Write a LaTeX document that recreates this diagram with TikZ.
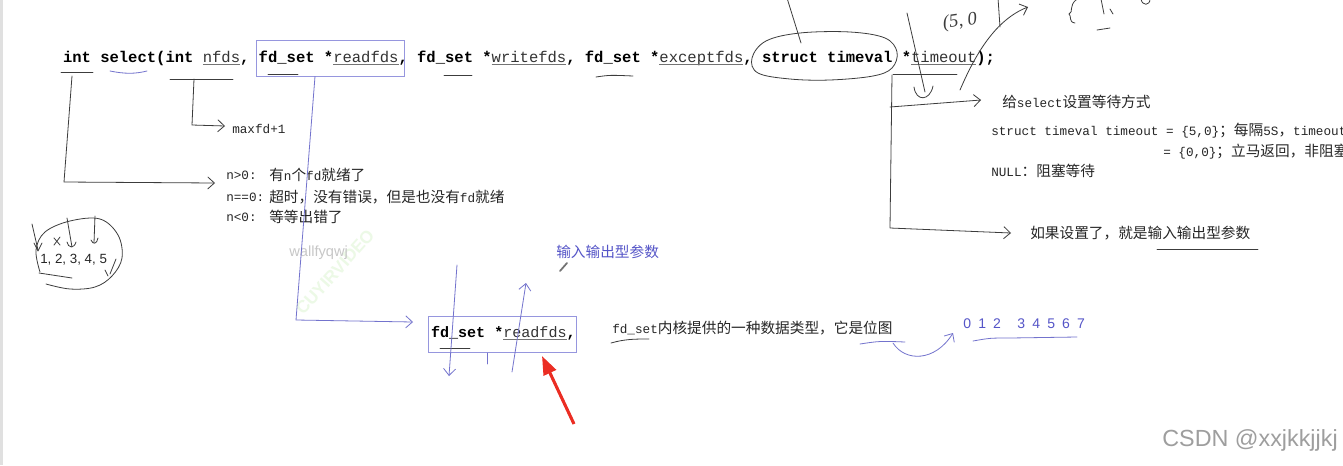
\documentclass[tikz,border=0pt]{standalone}
\usepackage{fontspec}
\setmainfont{Liberation Sans}
\newfontfamily\cjk{Noto Sans CJK SC}
\newfontfamily\mono{Liberation Mono}
\newfontfamily\hw{Liberation Serif}
\usetikzlibrary{arrows.meta}
\definecolor{boxblue}{RGB}{150,150,222}
\definecolor{handblue}{RGB}{115,115,205}
\definecolor{txtblue}{RGB}{85,85,200}
\definecolor{hand}{RGB}{60,60,60}
\definecolor{redarrow}{RGB}{235,45,35}
\definecolor{wmgreen}{RGB}{236,249,230}
\newcommand\lat[1]{{\mono\fontsize{9.5}{12}\selectfont #1}}
\tikzset{
 code/.style={anchor=base west, inner sep=0pt, outer sep=0pt, font=\mono\bfseries\fontsize{11.65}{14}\selectfont},
 param/.style={code, font=\mono\fontsize{11.65}{14}\selectfont, text=black!80},
 lcode/.style={code, font=\mono\bfseries\fontsize{11.3}{14}\selectfont},
 lparam/.style={code, font=\mono\fontsize{11.3}{14}\selectfont, text=black!80},
 ann/.style={anchor=west, inner sep=0pt, font=\cjk\fontsize{11}{13}\selectfont, text=black!85},
 hd/.style={draw=hand, line width=0.6pt, line cap=round, line join=round},
 hb/.style={draw=handblue, line width=0.6pt, line cap=round, line join=round},
 tul/.style={draw=black!55, line width=0.6pt},
 barb/.style={-{Straight Barb[length=5pt,width=9pt]}},
 frame/.style={draw=boxblue, line width=0.6pt, minimum width=111pt, minimum height=27pt, inner sep=0pt},
}
\newcommand\cseg[4]{\node[#4] (#1) at ({63+9.32*#2},62) {#3};}
\newcommand\lseg[4]{\node[#4] (#1) at ({431+9.04*#2},337) {#3};}
\begin{document}
\begin{tikzpicture}[x=0.75pt,y=-0.75pt]
\useasboundingbox (0,0) rectangle (1343,465);
\clip (0,0) rectangle (1343,465);
\fill[white] (0,0) rectangle (1343,465);
\fill[black!12] (0,0) rectangle (3,465);

% watermarks
\node[rotate=48, text=wmgreen, font=\bfseries\fontsize{13}{13}\selectfont] (wm2) at (335,272) {CUYIRVIDEO};
\node[anchor=west, inner sep=0pt, text=black!22, font=\fontsize{11}{11}\selectfont] (wm) at (289,253) {wallfyqwj};
\node[anchor=east, inner sep=0pt, text=black!38, font=\fontsize{17.5}{17.5}\selectfont] (csdn) at (1338,440) {CSDN @xxjkkjjkj};

% code line
\cseg{kint}{0}{int}{code}
\cseg{ksel}{4}{select(int}{code}
\cseg{knfds}{15}{nfds}{param}
\cseg{kc1}{19}{,}{code}
\cseg{kfda}{21}{fd\_set}{code}
\cseg{kst1}{28}{*}{code}
\cseg{kread}{29}{readfds}{param}
\cseg{kc2}{36}{,}{code}
\cseg{kfdb}{38}{fd\_set}{code}
\cseg{kst2}{45}{*}{code}
\cseg{kwrite}{46}{writefds}{param}
\cseg{kc3}{54}{,}{code}
\cseg{kfdc}{56}{fd\_set}{code}
\cseg{kst3}{63}{*}{code}
\cseg{kexc}{64}{exceptfds}{param}
\cseg{kc4}{73}{,}{code}
\cseg{kstruct}{75}{struct timeval}{code}
\cseg{kst4}{90}{*}{code}
\cseg{ktime}{91}{timeout}{param}
\cseg{kend}{98}{);}{code}
\foreach \n in {knfds,kread,kwrite,kexc,ktime}
  \draw[tul] ([yshift=-1.6pt]\n.base west) -- ([yshift=-1.6pt]\n.base east);

\node[frame] (rbox) at (330,58) {};

% hand underlines on the code line
\draw[hd] (61,72) -- (93,72);
\draw[hb] (110,71) .. controls (125,74) and (135,74) .. (147,71);
\draw[hd] (170,79) -- (233,79);
\draw[hd] (268,74) -- (298,74);
\draw[hd] (444,75) -- (472,75);
\draw[hd] (596,77) .. controls (610,75) .. (633,76);
\draw[hd] (893,74) -- (957,74);

% ellipse round struct timeval
\draw[hd] plot[smooth cycle, tension=0.6] coordinates {(752,58) (766,41) (800,33) (850,32) (885,38) (897,52) (892,68) (873,76) (830,80) (790,79) (758,73)};

% strokes at the top
\draw[hd] (787,-2) -- (801,43);
\draw[hd] (907,13) -- (925,92);
\draw[hd] (914,87) .. controls (916,102) and (930,101) .. (933,86);
\node[inner sep=0pt, text=hand, rotate=8, font=\hw\itshape\fontsize{14}{14}\selectfont] (hw1) at (960,22) {(5, 0};
\draw[hd] (998,-2) -- (1000,27);
\draw[hd,barb] (960,90) .. controls (975,55) and (995,20) .. (1028,7);
\draw[hd] (1077,-1) .. controls (1068,6) and (1074,12) .. (1069,14) .. controls (1072,16) and (1068,22) .. (1075,23);
\draw[hd] (1101,-1) -- (1104,14);
\draw[hd] (1110,9) -- (1113,14);
\draw[hd] (1097,30) -- (1110,28);
\draw[hd] (1141,-1) .. controls (1142,6) and (1150,6) .. (1150,-1);

% nfds -> maxfd+1
\node[anchor=west, inner sep=0pt, text=black!85] (maxfd) at (232,129) {\lat{maxfd+1}};
\coordinate (nf0) at (194,79);
\coordinate (nf1) at (192,125);
\coordinate (nf2) at (225,126);
\draw[hd,barb] (nf0) -- (nf1) -- (nf2);

% return value
\node[ann] (r1a) at (226,175) {\lat{n>0:}};
\node[ann] (r1b) at (269,175) {有\lat{n}个\lat{fd}就绪了};
\node[ann] (r2a) at (226,197) {\lat{n==0:}};
\node[ann] (r2b) at (269,197) {超时，没有错误，但是也没有\lat{fd}就绪};
\node[ann] (r3a) at (226,217) {\lat{n<0:}};
\node[ann] (r3b) at (269,217) {等等出错了};
\coordinate (ri0) at (72,76);
\coordinate (ri1) at (64,182);
\coordinate (ri2) at (215,183);
\draw[hd,barb] (ri0) -- (ri1) -- (ri2);

% readfds -> lower box
\node[frame] (lbox) at (502,334) {};
\lseg{lfd}{0}{fd\_set}{lcode}
\lseg{lst}{7}{*}{lcode}
\lseg{lread}{8}{readfds}{lparam}
\lseg{lc}{15}{,}{lcode}
\draw[tul] ([yshift=-1.6pt]lread.base west) -- ([yshift=-1.6pt]lread.base east);
\draw[hd] (440,348) -- (470,348);
\coordinate (rd1) at (296,320);
\coordinate (rd2) at (413,322);
\draw[hb,barb] ([xshift=-11.25pt]rbox.south) -- (rd1) -- (rd2);
\draw[hb,barb] (457,265) -- (449,376);
\draw[hb,barb] (512,372) -- (526,283);
\draw[hb] (487,353) -- (487,364);
\node[ann, text=txtblue] (io) at (556,252) {输入输出型参数};
\draw[black!55, line width=1.3pt, line cap=round] (560,271) -- (567,263);
\coordinate (rs) at (574,424);
\coordinate (re) at (542,356);
\draw[redarrow, line width=2.3pt, -{Triangle[length=14pt,width=10pt]}] (rs) -- (re);

% fd_set description
\node[ann] (desc) at (612,328) {\lat{fd\_set}内核提供的一种数据类型，它是位图};
\draw[hd] (611,343) .. controls (625,339) and (635,339) .. (649,339);
\draw[hb] (860,344) .. controls (880,341) .. (905,342);
\draw[hb,barb] (893,343) .. controls (905,362) and (935,362) .. (953,333);
\node[anchor=west, inner sep=0pt, text=txtblue, font=\fontsize{10.5}{12}\selectfont] (bits) at (963,324) {0\hspace{5.4pt}1\hspace{5.4pt}2\hspace{12.2pt}3\hspace{5.4pt}4\hspace{5.4pt}5\hspace{5.4pt}6\hspace{5.4pt}7};
\draw[hb] (973,341) .. controls (990,338) .. (1010,338) -- (1077,337);

% timeout
\coordinate (tv0) at (892,75);
\coordinate (tv1) at (890,228);
\coordinate (tv2) at (1011,233);
\coordinate (tb0) at (890,107);
\coordinate (tb1) at (981,100);
\draw[hd,barb] (tv0) -- (tv1) -- (tv2);
\draw[hd,barb] (tb0) -- (tb1);
\node[ann] (wait) at (1002,102) {给\lat{select}设置等待方式};
\node[ann] (l1) at (991,131) {\lat{struct timeval timeout = \{5,0\}}；每隔\lat{5S}，\lat{timeout=}};
\node[ann] (l2) at (1163,152) {\lat{= \{0,0\}}；立马返回，非阻塞};
\node[ann] (l3) at (991,171) {\lat{NULL}：阻塞等待};
\node[ann] (inout) at (1030,233) {如果设置了，就是输入输出型参数};
\draw[hd] (1157,249) -- (1258,249);

% 1,2,3,4,5 sketch
\node[anchor=west, inner sep=0pt, text=black!85, font=\fontsize{10}{10}\selectfont] (nums) at (40,260) {1, 2, 3, 4, 5};
\draw[hd] plot[smooth, tension=0.6] coordinates {(40,272) (36,250) (45,232) (70,221) (100,219) (118,235) (122,258) (112,276) (95,287) (70,289) (46,284)};
\draw[hd] (39,273) -- (72,278);
\draw[hd] (32,224) -- (38,250);
\draw[hd] (34,243) -- (38,251) -- (42,243);
\draw[hd] (67,218) -- (72,247);
\draw[hd] (67,242) .. controls (68,248) and (74,249) .. (76,242);
\draw[hd] (95,216) -- (94,243);
\draw[hd] (91,240) .. controls (93,245) and (97,244) .. (98,238);
\draw[hd] (54,238) -- (60,245);
\draw[hd] (60,237) -- (54,245);
\draw[hd] (116,259) -- (110,274);
\draw[hd] (105,270) -- (108,276);
\end{tikzpicture}
\end{document}
